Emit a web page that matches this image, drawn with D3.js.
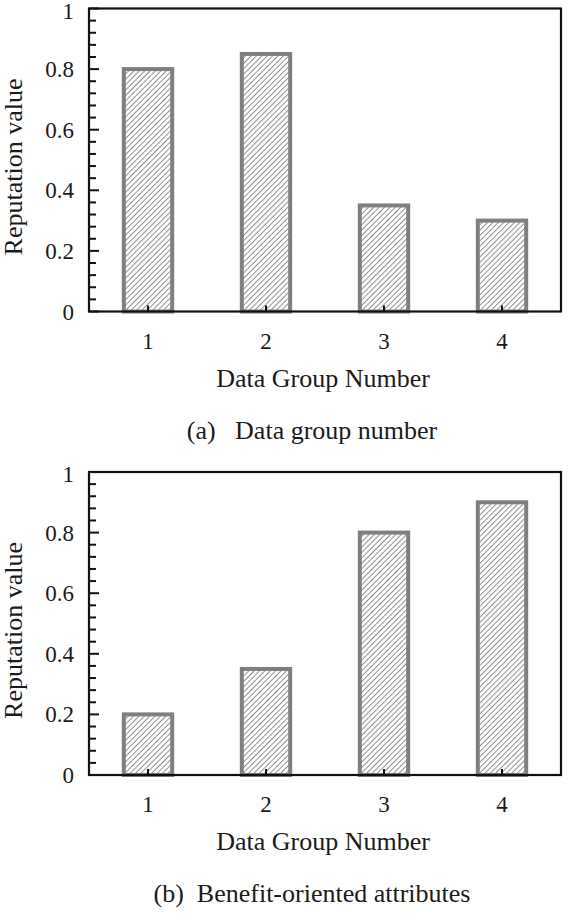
<!DOCTYPE html>
<html><head><meta charset="utf-8">
<script src="https://cdn.jsdelivr.net/npm/d3@7"></script>
<style>body{margin:0;background:#fff}svg{display:block}</style>
</head><body>
<svg id="c" width="568" height="913"></svg>
<script>
const categories = ["1","2","3","4"];
const valuesA = [0.80, 0.85, 0.35, 0.30];
const valuesB = [0.20, 0.35, 0.80, 0.90];
const yTicks = [0, 0.2, 0.4, 0.6, 0.8, 1];
const yTickLabels = ["0","0.2","0.4","0.6","0.8","1"];
const xTitle = "Data Group Number";
const yTitle = "Reputation value";
const captions = ["(a)\u00a0\u00a0 Data group number", "(b)\u00a0\u00a0Benefit-oriented attributes"];

const FONT = "'Liberation Serif', 'DejaVu Serif', 'Times New Roman', serif";
const svg = d3.select("#c");
const defs = svg.append("defs");
const pat = defs.append("pattern").attr("id","hatch").attr("patternUnits","userSpaceOnUse")
  .attr("width",3.8).attr("height",3.8).attr("patternTransform","rotate(45)");
pat.append("rect").attr("width",3.8).attr("height",3.8).attr("fill","#fff");
pat.append("line").attr("x1",0).attr("y1",0).attr("x2",0).attr("y2",3.8).attr("stroke","#4a4a4a").attr("stroke-width",1.2);

const left = 89, right = 561;
function txt(g){ return g.append("text").attr("font-family",FONT).attr("fill","#1a1a1a"); }
function panel(values, top, bottom, caption){
  const g = svg.append("g");
  const x = d3.scaleBand().domain(categories).range([left,right]).paddingInner(0.59).paddingOuter(0.295);
  const y = d3.scaleLinear().domain([0,1]).range([bottom, top]);
  g.selectAll("rect.bar").data(values).join("rect").attr("class","bar")
    .attr("x",(d,i)=>x(categories[i])).attr("width",x.bandwidth())
    .attr("y",d=>y(d)).attr("height",d=>y(0)-y(d))
    .attr("fill","url(#hatch)").attr("stroke","#7f7f7f").attr("stroke-width",4);
  const minor = d3.range(0,1.0001,0.04);
  g.selectAll("line.minor").data(minor).join("line")
    .attr("x1",left).attr("x2",d=>left+(Math.abs(d*5-Math.round(d*5))<1e-6?10:7))
    .attr("y1",d=>y(d)).attr("y2",d=>y(d)).attr("stroke","#111").attr("stroke-width",2);
  yTicks.forEach((d,i)=>{
    txt(g).attr("x",74).attr("y",d===1 ? y(d)+2 : y(d)).attr("dy","0.35em").attr("text-anchor","end")
      .attr("font-size",23).text(yTickLabels[i]);
  });
  g.selectAll("line.xt").data(categories).join("line")
    .attr("x1",d=>x(d)+x.bandwidth()/2).attr("x2",d=>x(d)+x.bandwidth()/2)
    .attr("y1",y(0)).attr("y2",y(0)-6).attr("stroke","#111").attr("stroke-width",2);
  categories.forEach(c=>{
    txt(g).attr("x",x(c)+x.bandwidth()/2).attr("y",y(0)+37).attr("text-anchor","middle")
      .attr("font-size",23).text(c);
  });
  g.append("rect").attr("x",left).attr("y",y(1)).attr("width",right-left).attr("height",y(0)-y(1))
    .attr("fill","none").attr("stroke","#111").attr("stroke-width",2.2);
  txt(g).attr("x",(left+right)/2-2).attr("y",y(0)+75).attr("text-anchor","middle")
    .attr("font-size",26).text(xTitle);
  txt(g).attr("transform",`translate(22,${(top+bottom)/2+7}) rotate(-90)`)
    .attr("text-anchor","middle").attr("font-size",26).text(yTitle);
  txt(g).attr("x",312).attr("y",y(0)+127).attr("text-anchor","middle")
    .attr("font-size",26).text(caption);
}
panel(valuesA, 8.5, 311.5, captions[0]);
panel(valuesB, 472, 775, captions[1]);
</script>
</body></html>
